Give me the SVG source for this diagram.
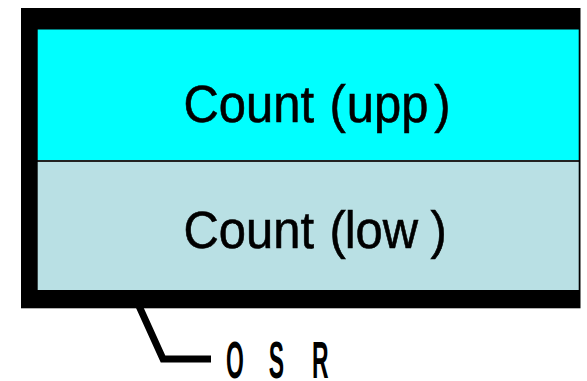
<svg xmlns="http://www.w3.org/2000/svg" width="587" height="381" viewBox="0 0 587 381">
  <style>
    .label { font-family: "Liberation Sans", Arial, sans-serif; font-size: 52px; fill: #000; stroke: #000; stroke-width: 0.6; }
    .name { font-family: "Liberation Sans", Arial, sans-serif; font-size: 51px; font-weight: bold; fill: #000; }
    .leader { fill: none; stroke: #000; stroke-width: 7; stroke-linejoin: miter; }
  </style>
  <rect width="587" height="381" fill="#fff"/>

  <!-- OSR register frame -->
  <g id="osr">
    <rect x="21" y="8" width="559.5" height="300.3" fill="#000"/>
  </g>

  <!-- upper count field -->
  <g id="count-upp">
    <rect x="37.7" y="29.5" width="541" height="130.5" fill="#00ffff"/>
    <text class="label" transform="translate(0,121.7) scale(0.94,1)"><tspan x="195.3">Count</tspan><tspan x="350.6">(</tspan><tspan x="369">upp</tspan><tspan x="462">)</tspan></text>
  </g>

  <!-- lower count field -->
  <g id="count-low">
    <rect x="37.7" y="160" width="541" height="2" fill="#222"/>
    <rect x="37.7" y="162" width="541" height="128" fill="#b9e0e4"/>
    <text class="label" transform="translate(0,248.3) scale(0.94,1)"><tspan x="195.3">Count</tspan><tspan x="350.6">(</tspan><tspan x="366.7">low</tspan><tspan x="458">)</tspan></text>
  </g>

  <!-- leader to register name -->
  <g id="connectors">
    <polyline class="leader" points="139,306 163,359 211,359"/>
  </g>

  <g id="osr-label">
    <text class="name" transform="translate(226,378) scale(0.45,1)"><tspan x="0">O</tspan><tspan x="95">S</tspan><tspan x="191">R</tspan></text>
  </g>
</svg>
